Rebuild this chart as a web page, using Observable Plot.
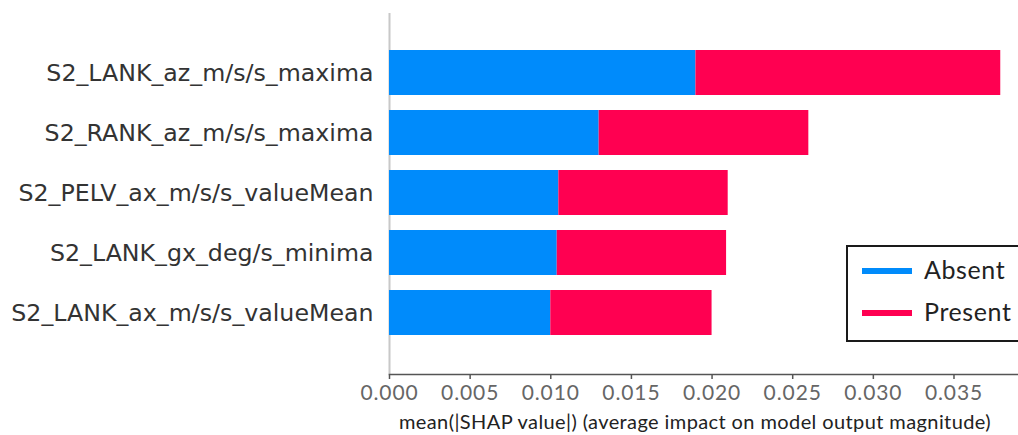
<!DOCTYPE html>
<html>
<head>
<meta charset="utf-8">
<script src="https://cdn.jsdelivr.net/npm/d3@7"></script>
<script src="https://cdn.jsdelivr.net/npm/@observablehq/plot@0.6"></script>
<style>
  body { margin: 0; background: #fff; }
  #chart { position: relative; width: 1018px; height: 435px; overflow: hidden; }
  #chart svg g[aria-label="x-axis tick label"] text { letter-spacing: 0.9px; }
  #chart svg g[aria-label="text"] text { letter-spacing: 0.4px; }
  .legend {
    position: absolute; left: 846px; top: 245px; width: 200px; height: 97px;
    box-sizing: border-box; border: 2px solid #1a1a1a; background: #fff;
    font-family: Lato, sans-serif; font-size: 25px; letter-spacing: 0.6px; color: #222;
  }
  .legend .item { position: absolute; left: 14px; height: 28px; display: flex; align-items: center; }
  .legend .swatch { width: 50px; height: 6px; margin-right: 12px; position: relative; top: 2px; }
</style>
</head>
<body>
<div id="chart"></div>
<script>
// Features, ordered from most to least important
const features = [
  "S2_LANK_az_m/s/s_maxima",
  "S2_RANK_az_m/s/s_maxima",
  "S2_PELV_ax_m/s/s_valueMean",
  "S2_LANK_gx_deg/s_minima",
  "S2_LANK_ax_m/s/s_valueMean"
];
// Mean |SHAP| per class
const absent  = [0.0190, 0.0130, 0.0105, 0.0104, 0.0100];
const present = [0.0189, 0.0130, 0.0105, 0.0105, 0.0100];
const groups = ["Absent", "Present"];
const groupColors = ["#008bfb", "#ff0051"];
const xTicks = [0, 0.005, 0.010, 0.015, 0.020, 0.025, 0.030, 0.035];
const xLabel = "mean(|SHAP value|) (average impact on model output magnitude)";

const rows = [];
features.forEach((f, i) => {
  rows.push({feature: f, group: groups[0], value: absent[i]});
  rows.push({feature: f, group: groups[1], value: present[i]});
});

const chart = Plot.plot({
  width: 1018,
  height: 435,
  marginLeft: 389,
  marginRight: 0,
  marginTop: 13,
  marginBottom: 61,
  style: {background: "#fff", overflow: "visible"},
  x: {domain: [0, 0.0390]},
  y: {domain: features, range: [42, 342], paddingInner: 0.25, paddingOuter: 0.125},
  color: {domain: groups, range: groupColors},
  marks: [
    Plot.ruleX([0], {stroke: "#c8c8c8", strokeWidth: 2}),
    Plot.barX(rows, Plot.stackX({x: "value", y: "feature", fill: "group", order: null})),
    Plot.frame({anchor: "bottom", stroke: "#555", strokeWidth: 1.5}),
    Plot.axisX({
      ticks: xTicks, tickFormat: d3.format(".3f"), tickSize: 5, tickPadding: 6,
      stroke: "#555", strokeWidth: 1.5, fill: "#666", fontSize: 21, fontFamily: "Lato", label: null
    }),
    Plot.axisY({
      tickSize: 0, tickPadding: 16, fill: "#333", fontSize: 23.7,
      fontFamily: "DejaVu Sans", label: null
    }),
    Plot.text([xLabel], {
      frameAnchor: "bottom", dy: 48, dx: -9, fontSize: 20, fontFamily: "Lato",
      fill: "#222", lineAnchor: "middle"
    })
  ]
});

const root = document.getElementById("chart");
root.appendChild(chart);

// Legend box
const legend = document.createElement("div");
legend.className = "legend";
groups.forEach((g, i) => {
  const item = document.createElement("div");
  item.className = "item";
  item.style.top = (8 + i * 42) + "px";
  const sw = document.createElement("span");
  sw.className = "swatch";
  sw.style.background = groupColors[i];
  const label = document.createElement("span");
  label.textContent = g;
  item.append(sw, label);
  legend.appendChild(item);
});
root.appendChild(legend);
</script>
</body>
</html>
